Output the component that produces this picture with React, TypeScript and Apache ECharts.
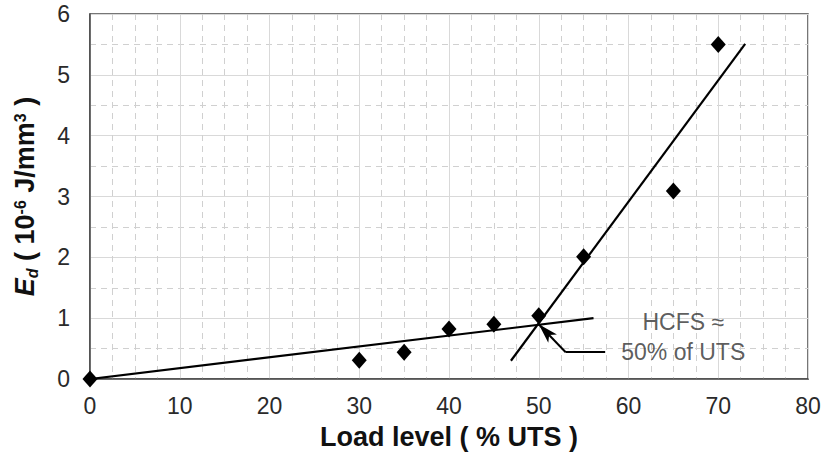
import React, { useEffect, useRef } from "react";
import * as echarts from "echarts";

const loadLevels = [0, 30, 35, 40, 45, 50, 55, 65, 70];
const energyValues = [0, 0.31, 0.44, 0.82, 0.9, 1.04, 2.01, 3.09, 5.5];
const fitLow: [number, number][] = [[0, 0], [56.1, 1.0]];
const fitHigh: [number, number][] = [[46.9, 0.3], [73.0, 5.51]];
const arrowTip: [number, number] = [50.0, 0.9];
const arrowElbow: [number, number] = [53.0, 0.44];
const arrowEnd: [number, number] = [57.4, 0.44];
const noteLine1: [number, number] = [66.1, 0.94];
const noteLine2: [number, number] = [66.1, 0.44];
const xTicks = { min: 0, max: 80, interval: 10 };
const yTicks = { min: 0, max: 6, interval: 1 };

export default function App() {
  const ref = useRef<HTMLDivElement>(null);
  useEffect(() => {
    if (!ref.current) return;
    const chart = echarts.init(ref.current, null, { renderer: "svg" });
    const tickFont = { fontFamily: "'Liberation Sans', Arial, sans-serif", fontSize: 23, color: "#2a2a2a" };
    chart.setOption({
      animation: false,
      backgroundColor: "#fff",
      grid: { left: 88, right: 17, top: 14, bottom: 85, show: true, borderColor: "#4a4a4a", borderWidth: 1.5, backgroundColor: "transparent" },
      xAxis: {
        type: "value",
        min: xTicks.min,
        max: xTicks.max,
        interval: xTicks.interval,
        name: "Load level ( % UTS )",
        nameLocation: "middle",
        nameGap: 44,
        nameTextStyle: { fontFamily: "'Liberation Sans', Arial, sans-serif", fontWeight: "bold", fontSize: 27, color: "#111" },
        axisLine: { show: true, lineStyle: { color: "#4a4a4a", width: 1.5 } },
        axisTick: { show: false },
        axisLabel: { ...tickFont, margin: 15 },
        splitLine: { show: true, lineStyle: { color: "#d9d9d9", width: 1 } },
        minorTick: { show: false, splitNumber: 4 },
        minorSplitLine: { show: true, lineStyle: { color: "#d0d0d0", width: 1, type: [6, 5] } },
      },
      yAxis: {
        type: "value",
        min: yTicks.min,
        max: yTicks.max,
        interval: yTicks.interval,
        name: "{e|E}{d|d}{n| ( 10}{s|-6}{n| J/mm}{s|3}{n| )}",
        nameLocation: "middle",
        nameGap: 48,
        nameTextStyle: {
          color: "#111",
          rich: {
            e: { fontFamily: "'Liberation Sans', Arial, sans-serif", fontWeight: "bold", fontStyle: "italic", fontSize: 27, color: "#111", lineHeight: 34, verticalAlign: "middle" },
            d: { fontFamily: "'Liberation Sans', Arial, sans-serif", fontWeight: "bold", fontStyle: "italic", fontSize: 16, color: "#111", lineHeight: 34, verticalAlign: "bottom", padding: [0, 0, 2, 0] },
            n: { fontFamily: "'Liberation Sans', Arial, sans-serif", fontWeight: "bold", fontSize: 27, color: "#111", lineHeight: 34, verticalAlign: "middle" },
            s: { fontFamily: "'Liberation Sans', Arial, sans-serif", fontWeight: "bold", fontSize: 16, color: "#111", lineHeight: 34, verticalAlign: "top", padding: [4, 0, 0, 0] },
          },
        },
        axisLine: { show: true, lineStyle: { color: "#4a4a4a", width: 1.5 } },
        axisTick: { show: false },
        axisLabel: { ...tickFont, margin: 20 },
        splitLine: { show: true, lineStyle: { color: "#d9d9d9", width: 1 } },
        minorTick: { show: false, splitNumber: 2 },
        minorSplitLine: { show: true, lineStyle: { color: "#d0d0d0", width: 1, type: [6, 5] } },
      },
      series: [
        {
          type: "line",
          data: fitLow,
          symbol: "none",
          lineStyle: { color: "#000", width: 2.2 },
          z: 3,
        },
        {
          type: "line",
          data: fitHigh,
          symbol: "none",
          lineStyle: { color: "#000", width: 2.2 },
          z: 3,
          markLine: {
            silent: true,
            animation: false,
            label: { show: false },
            lineStyle: { color: "#000", width: 2, type: "solid" },
            data: [
              [
                { coord: arrowTip, symbol: "arrow", symbolSize: [9, 20] },
                { coord: arrowElbow, symbol: "none" },
              ],
              [
                { coord: arrowElbow, symbol: "none" },
                { coord: arrowEnd, symbol: "none" },
              ],
            ],
          },
        },
        {
          type: "scatter",
          data: loadLevels.map((x, i) => [x, energyValues[i]]),
          symbol: "diamond",
          symbolSize: [15, 17],
          itemStyle: { color: "#000", opacity: 1 },
          clip: false,
          z: 5,
        },
        {
          type: "scatter",
          data: [
            { value: noteLine1, label: { formatter: "HCFS ≈" } },
            { value: noteLine2, label: { formatter: "50% of UTS" } },
          ],
          symbolSize: 0,
          silent: true,
          label: {
            show: true,
            position: "inside",
            fontFamily: "'Liberation Sans', Arial, sans-serif",
            fontSize: 23,
            color: "#333",
          },
          z: 6,
        },
      ],
    });
    return () => chart.dispose();
  }, []);
  return <div ref={ref} style={{ width: 825, height: 464, position: "absolute", left: 0, top: 0 }} />;
}
